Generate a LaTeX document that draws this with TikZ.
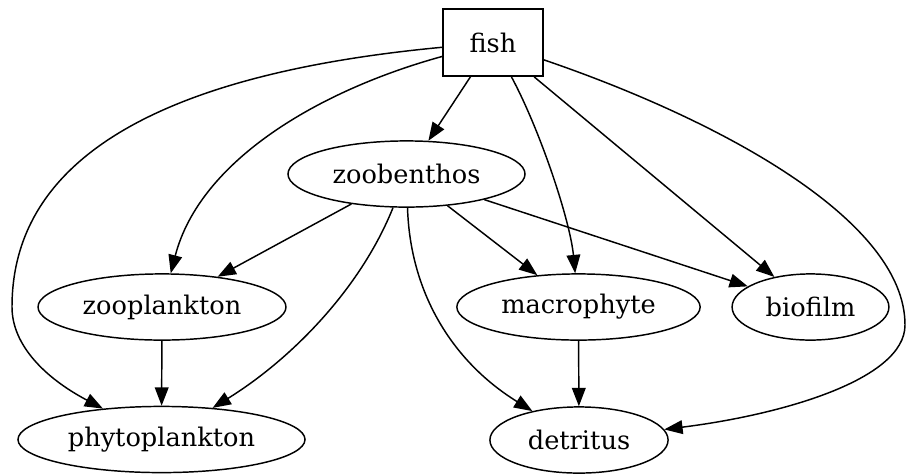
\documentclass[tikz,border=0pt]{standalone}
\usepackage{fontspec}
\setmainfont{DejaVu Serif}
\usetikzlibrary{arrows.meta,shapes.geometric}

\begin{document}
\begin{tikzpicture}[
    x=0.0192cm, y=-0.0192cm,
    every node/.style={font=\fontsize{14}{16}\selectfont},
    taxon/.style={draw, ellipse, inner sep=0pt, minimum height=1.27cm, line width=0.8pt},
    top/.style={draw, rectangle, minimum width=1.92cm, minimum height=1.29cm, line width=0.8pt},
    edge/.style={->, line width=0.8pt},
    >={Triangle[length=10pt, width=7.5pt]}
]
    \useasboundingbox (0,0) rectangle (906,475);

    \node[top] (fish) at (493,42.5) {fish};
    \node[taxon, minimum width=4.55cm] (zoob) at (406.5,174) {zoobenthos};
    \node[taxon, minimum width=4.76cm] (zoopl) at (162,307) {zooplankton};
    \node[taxon, minimum width=4.67cm] (macro) at (578.5,307) {macrophyte};
    \node[taxon, minimum width=3.01cm] (bio) at (810.5,307) {biofilm};
    \node[taxon, minimum width=5.51cm] (phyto) at (161.5,439.5) {phytoplankton};
    \node[taxon, minimum width=3.42cm] (detr) at (579,440) {detritus};

    \coordinate (westbend) at (12,307);
    \coordinate (eastbend) at (905,325);

    % edges out of fish
    \draw[edge] (fish) -- (zoob);
    \draw[edge] (fish) .. controls (320,90) and (200,160) .. (zoopl);
    \draw[edge] (fish) .. controls (200,70) and (12,140) .. (westbend)
        .. controls (12,345) and (45,378) .. (phyto);
    \draw[edge] (fish) .. controls (540,130) and (570,220) .. (macro);
    \draw[edge] (fish) -- (bio);
    \draw[edge] (fish) .. controls (720,120) and (905,220) .. (eastbend)
        .. controls (905,380) and (780,415) .. (detr);

    % edges out of zoobenthos
    \draw[edge] (zoob) -- (zoopl);
    \draw[edge] (zoob) .. controls (360,290) and (290,360) .. (phyto);
    \draw[edge] (zoob) .. controls (410,290) and (450,360) .. (detr);
    \draw[edge] (zoob) -- (macro);
    \draw[edge] (zoob) -- (bio);

    \draw[edge] (zoopl) -- (phyto);
    \draw[edge] (macro) -- (detr);
\end{tikzpicture}
\end{document}
